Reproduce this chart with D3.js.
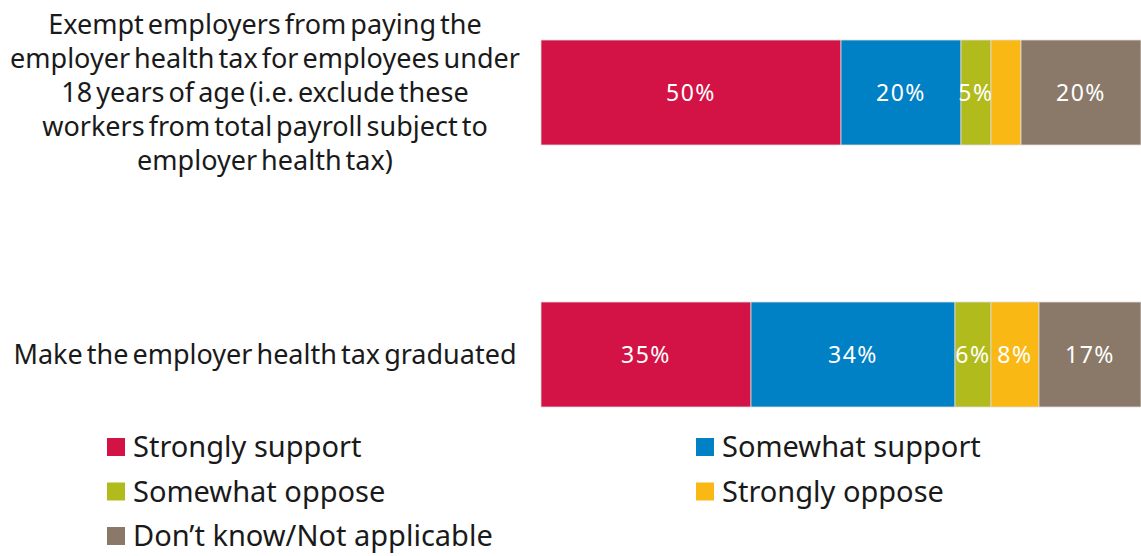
<!DOCTYPE html>
<html>
<head>
<meta charset="utf-8">
<script src="https://cdn.jsdelivr.net/npm/d3@7"></script>
<style>
  html, body { margin: 0; padding: 0; background: #fff; }
  svg { display: block; font-family: "Noto Sans", "Open Sans", sans-serif; }
</style>
</head>
<body>
<svg id="chart" width="1141" height="556"></svg>
<script>
// Survey items (wrapped onto lines as printed)
const categories = [
  "Exempt employers from paying the employer health tax for employees under 18 years of age (i.e. exclude these workers from total payroll subject to employer health tax)",
  "Make the employer health tax graduated"
];
const categoryLines = [
  ["Exempt employers from paying the",
   "employer health tax for employees under",
   "18 years of age (i.e. exclude these",
   "workers from total payroll subject to",
   "employer health tax)"],
  ["Make the employer health tax graduated"]
];

const seriesNames = ["Strongly support", "Somewhat support", "Somewhat oppose", "Strongly oppose", "Don\u2019t know/Not applicable"];
const seriesColors = ["#D31245", "#0080C5", "#B1BB1B", "#F9B814", "#8A7968"];

// Percent of respondents per item, one array per response
const stronglySupport = [50, 35];
const somewhatSupport = [20, 34];
const somewhatOppose  = [5, 6];
const stronglyOppose  = [5, 8];
const dontKnow        = [20, 17];
// Which segments carry a printed value label
const showLabel = [
  [true, true],
  [true, true],
  [true, true],
  [false, true],
  [true, true]
];

const seriesValues = [stronglySupport, somewhatSupport, somewhatOppose, stronglyOppose, dontKnow];

const rows = categories.map((c, i) => {
  const r = { category: c };
  seriesNames.forEach((s, j) => { r[s] = seriesValues[j][i]; });
  return r;
});

const svg = d3.select("#chart");

const x = d3.scaleLinear().domain([0, 100]).range([541, 1141]);
const y = d3.scalePoint().domain(categories).range([92.5, 354.5]);
const barH = 105;

const stacked = d3.stack().keys(seriesNames)(rows);

const barY = c => y(c) - barH / 2;
const barMid = c => y(c);

const layers = svg.append("g").selectAll("g")
  .data(stacked)
  .join("g")
  .attr("fill", (d, i) => seriesColors[i]);

layers.selectAll("rect")
  .data(d => d)
  .join("rect")
  .attr("x", d => x(d[0]))
  .attr("width", d => x(d[1]) - x(d[0]))
  .attr("y", d => barY(d.data.category))
  .attr("height", barH)
  .attr("stroke", "#e2dcdc")
  .attr("stroke-width", 0.8);

// Value labels inside segments
layers.each(function(layer, si) {
  d3.select(this).selectAll("text")
    .data(layer.map((d, ci) => ({ d, ci })).filter(o => showLabel[si][o.ci]))
    .join("text")
    .attr("x", o => (x(o.d[0]) + x(o.d[1])) / 2)
    .attr("y", o => barMid(o.d.data.category))
    .attr("dy", "0.36em")
    .attr("text-anchor", "middle")
    .attr("fill", "#fff")
    .attr("font-size", 23)
    .attr("letter-spacing", 1.5)
    .text(o => (o.d[1] - o.d[0]) + "%");
});

// Item labels on the left
const lineH = 34;
svg.append("g").selectAll("text")
  .data(categories)
  .join("text")
  .attr("text-anchor", "middle")
  .attr("fill", "#1a1a1a")
  .attr("font-size", 27)
  .attr("word-spacing", -3)
  .each(function(c, i) {
    const lines = categoryLines[i];
    const t = d3.select(this);
    const top = barMid(c) - (lines.length - 1) * lineH / 2;
    lines.forEach((ln, k) => {
      t.append("tspan")
        .attr("x", 265)
        .attr("y", top + k * lineH)
        .attr("dy", "0.35em")
        .text(ln);
    });
  });

// Legend, two columns
const legendCol = d3.scalePoint().domain([0, 1]).range([107, 696]);
const legendRow = d3.scalePoint().domain([0, 1, 2]).range([447, 536]);

const legend = svg.append("g").selectAll("g")
  .data(seriesNames)
  .join("g")
  .attr("transform", (d, i) => `translate(${legendCol(i % 2)},${legendRow(Math.floor(i / 2))})`);

legend.append("rect")
  .attr("x", 0).attr("y", -9)
  .attr("width", 18).attr("height", 18)
  .attr("fill", (d, i) => seriesColors[i]);

legend.append("text")
  .attr("x", 26)
  .attr("dy", "0.35em")
  .attr("font-size", 29)
  .attr("fill", "#1a1a1a")
  .text(d => d);
</script>
</body>
</html>
